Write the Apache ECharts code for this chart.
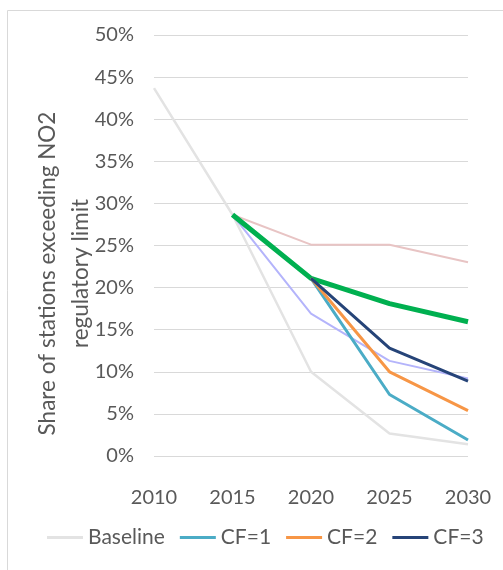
<!DOCTYPE html>
<html>
<head>
<meta charset="utf-8">
<script src="https://cdn.jsdelivr.net/npm/echarts@6/dist/echarts.min.js"></script>
<style>
  html, body { margin: 0; padding: 0; background: #fff; }
  #chart { width: 503px; height: 570px; }
</style>
</head>
<body>
<div id="chart"></div>
<script>
// data
var years = ['2010', '2015', '2020', '2025', '2030'];
var baseline = [0.437, 0.2865, 0.100, 0.0266, 0.014];
var cf1 = [null, null, 0.211, 0.073, 0.019];
var cf2 = [null, null, 0.211, 0.100, 0.054];
var cf3 = [null, null, 0.211, 0.128, 0.089];
// unlabelled scenario lines
var greenLine = [null, 0.2865, 0.211, 0.181, 0.1595];
var pinkLine = [null, 0.2865, 0.251, 0.251, 0.230];
var lavenderLine = [null, 0.2865, 0.169, 0.113, 0.092];

var font = 'Lato';
var grey = '#595959';

var myChart = echarts.init(document.getElementById('chart'));

function line(name, data, color, width) {
    return {
        name: name,
        type: 'line',
        data: data,
        symbol: 'none',
        smooth: false,
        connectNulls: false,
        lineStyle: { color: color, width: width },
        itemStyle: { color: color },
        emphasis: { disabled: true }
    };
}

var option = {
    animation: false,
    textStyle: { fontFamily: font },
    graphic: [{
        // frame of the chart area (only top and left edges visible)
        type: 'rect',
        shape: { x: 7.5, y: 10.5, width: 520, height: 600 },
        style: { fill: 'none', stroke: '#d9d9d9', lineWidth: 1 },
        silent: true
    }],
    grid: { left: 154, right: 35, top: 35, bottom: 114 },
    xAxis: {
        type: 'category',
        data: years,
        boundaryGap: false,
        axisLine: { show: false },
        axisTick: { show: false },
        axisLabel: { color: grey, fontSize: 20, margin: 32, fontFamily: font }
    },
    yAxis: {
        type: 'value',
        min: 0,
        max: 0.5,
        interval: 0.05,
        name: 'Share of stations exceeding NO2\nregulatory limit',
        nameLocation: 'middle',
        nameRotate: 90,
        nameGap: 57,
        nameMoveOverlap: false,
        nameTextStyle: {
            color: grey, fontSize: 22.5, lineHeight: 33, fontFamily: font,
            padding: [0, 56, 0, 0]
        },
        axisLine: { show: false },
        axisTick: { show: false },
        splitLine: { lineStyle: { color: '#d9d9d9', width: 1 } },
        axisLabel: {
            color: grey, fontSize: 20, margin: 20, fontFamily: font,
            formatter: function (v) { return Math.round(v * 100) + '%'; }
        }
    },
    legend: {
        data: ['Baseline', 'CF=1', 'CF=2', 'CF=3'],
        left: 47,
        top: 527,
        padding: 0,
        icon: 'rect',
        itemWidth: 36,
        itemHeight: 3,
        itemGap: 15,
        textStyle: { color: grey, fontSize: 21, fontFamily: font }
    },
    series: [
        line('Baseline', baseline, '#e3e3e3', 2.5),
        line('Scenario A', pinkLine, '#e8c4c4', 2),
        line('Scenario B', lavenderLine, '#b4b4fb', 2),
        line('Scenario C', greenLine, '#00b050', 5),
        line('CF=1', cf1, '#4bacc6', 3),
        line('CF=2', cf2, '#f79646', 3),
        line('CF=3', cf3, '#264478', 3)
    ]
};

myChart.setOption(option);
</script>
</body>
</html>
